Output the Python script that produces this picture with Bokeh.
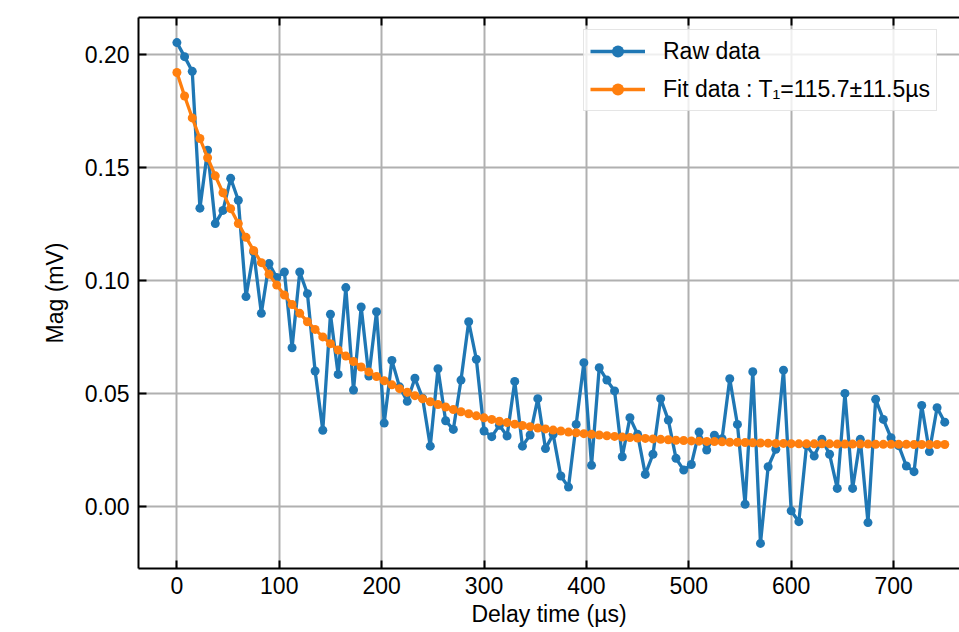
from bokeh.plotting import figure
from bokeh.models import (Range1d, FixedTicker, PrintfTickFormatter, LinearAxis,
                          Legend, LegendItem, CustomJSTickFormatter)
from bokeh.embed import file_html
from bokeh.resources import INLINE

# ---------------- data ----------------
delay_us = [0, 7.5, 15, 22.5, 30, 37.5, 45, 52.5, 60, 67.5, 75, 82.5, 90, 97.5,
            105, 112.5, 120, 127.5, 135, 142.5, 150, 157.5, 165, 172.5, 180,
            187.5, 195, 202.5, 210, 217.5, 225, 232.5, 240, 247.5, 255, 262.5,
            270, 277.5, 285, 292.5, 300, 307.5, 315, 322.5, 330, 337.5, 345,
            352.5, 360, 367.5, 375, 382.5, 390, 397.5, 405, 412.5, 420, 427.5,
            435, 442.5, 450, 457.5, 465, 472.5, 480, 487.5, 495, 502.5, 510,
            517.5, 525, 532.5, 540, 547.5, 555, 562.5, 570, 577.5, 585, 592.5,
            600, 607.5, 615, 622.5, 630, 637.5, 645, 652.5, 660, 667.5, 675,
            682.5, 690, 697.5, 705, 712.5, 720, 727.5, 735, 742.5, 750]

raw_mag = [0.2052, 0.1990, 0.1925, 0.1320, 0.1576, 0.1252, 0.1310, 0.1452,
           0.1355, 0.0929, 0.1126, 0.0855, 0.1075, 0.1013, 0.1038, 0.0703,
           0.1038, 0.0942, 0.0600, 0.0338, 0.0851, 0.0585, 0.0969, 0.0516,
           0.0883, 0.0578, 0.0862, 0.0370, 0.0647, 0.0530, 0.0466, 0.0568,
           0.0480, 0.0268, 0.0610, 0.0380, 0.0342, 0.0560, 0.0818, 0.0652,
           0.0335, 0.0310, 0.0360, 0.0313, 0.0554, 0.0268, 0.0317, 0.0478,
           0.0257, 0.0320, 0.0136, 0.0087, 0.0364, 0.0637, 0.0183, 0.0615,
           0.0560, 0.0512, 0.0221, 0.0394, 0.0320, 0.0143, 0.0232, 0.0478,
           0.0383, 0.0214, 0.0162, 0.0187, 0.0330, 0.0251, 0.0316, 0.0301,
           0.0566, 0.0364, 0.0011, 0.0597, -0.0162, 0.0177, 0.0254, 0.0604,
           -0.0018, -0.0066, 0.0272, 0.0224, 0.0298, 0.0232, 0.0081, 0.0501,
           0.0081, 0.0298, -0.0070, 0.0475, 0.0386, 0.0305, 0.0270, 0.0180,
           0.0155, 0.0448, 0.0244, 0.0438, 0.0374]

fit_mag = [0.1920, 0.1816, 0.1719, 0.1628, 0.1543, 0.1463, 0.1388, 0.1318,
           0.1252, 0.1191, 0.1133, 0.1079, 0.1028, 0.0980, 0.0936, 0.0894,
           0.0855, 0.0818, 0.0784, 0.0751, 0.0721, 0.0693, 0.0666, 0.0642,
           0.0618, 0.0596, 0.0576, 0.0557, 0.0539, 0.0522, 0.0506, 0.0491,
           0.0477, 0.0464, 0.0452, 0.0441, 0.0430, 0.0420, 0.0411, 0.0402,
           0.0393, 0.0386, 0.0378, 0.0372, 0.0365, 0.0359, 0.0354, 0.0348,
           0.0344, 0.0339, 0.0335, 0.0330, 0.0327, 0.0323, 0.0320, 0.0317,
           0.0314, 0.0311, 0.0308, 0.0306, 0.0304, 0.0302, 0.0300, 0.0298,
           0.0296, 0.0294, 0.0293, 0.0291, 0.0290, 0.0289, 0.0288, 0.0287,
           0.0285, 0.0285, 0.0284, 0.0283, 0.0282, 0.0281, 0.0280, 0.0280,
           0.0279, 0.0278, 0.0278, 0.0278, 0.0278, 0.0278, 0.0277, 0.0277,
           0.0277, 0.0277, 0.0277, 0.0276, 0.0276, 0.0276, 0.0276, 0.0276,
           0.0275, 0.0275, 0.0275, 0.0275, 0.0275]

x_ticks = [0, 100, 200, 300, 400, 500, 600, 700]
y_ticks = [0.0, 0.05, 0.10, 0.15, 0.20]

raw_label = "Raw data"
fit_label = "Fit data : T\u2081=115.7\u00b111.5\u00b5s"
x_title = "Delay time (\u00b5s)"
y_title = "Mag (mV)"

# ---------------- styling ----------------
BLUE = "#1f77b4"
ORANGE = "#ff7f0e"
FONT = "Liberation Sans"
FS = "23px"

p = figure(width=959, height=632, output_backend="svg", toolbar_location=None,
           x_range=Range1d(-37.5, 764.4), y_range=Range1d(-0.0273, 0.2163),
           min_border_left=138, min_border_right=0, min_border_top=17,
           min_border_bottom=64)
p.outline_line_color = None
p.background_fill_color = "white"
p.border_fill_color = "white"

raw_line = p.line(delay_us, raw_mag, line_color=BLUE, line_width=3.3)
raw_pts = p.scatter(delay_us, raw_mag, size=9, fill_color=BLUE, line_color=None)
fit_line = p.line(delay_us, fit_mag, line_color=ORANGE, line_width=3.3)
fit_pts = p.scatter(delay_us, fit_mag, size=9, fill_color=ORANGE, line_color=None)

xt = FixedTicker(ticks=x_ticks)
yt = FixedTicker(ticks=y_ticks)

def style_axis(ax):
    ax.axis_line_color = "black"
    ax.axis_line_width = 2
    ax.major_tick_in = 8
    ax.major_tick_out = 0
    ax.minor_tick_in = 0
    ax.minor_tick_out = 0
    ax.major_tick_line_width = 2
    ax.major_tick_line_color = "black"
    ax.major_label_text_font = FONT
    ax.major_label_text_font_size = FS
    ax.major_label_text_color = "black"
    ax.axis_label_text_font = FONT
    ax.axis_label_text_font_size = FS
    ax.axis_label_text_font_style = "normal"
    ax.axis_label_text_color = "black"

xa = p.xaxis[0]
ya = p.yaxis[0]
style_axis(xa)
style_axis(ya)
xa.ticker = xt
ya.ticker = yt
ya.formatter = PrintfTickFormatter(format="%.2f")
xa.axis_label = x_title
ya.axis_label = y_title
xa.major_label_standoff = 8
xa.axis_label_standoff = 4
ya.major_label_standoff = 9
ya.axis_label_standoff = 14

top = LinearAxis(ticker=xt, formatter=CustomJSTickFormatter(code="return ''"))
style_axis(top)
top.major_label_text_font_size = "0px"
top.major_label_standoff = 0
p.add_layout(top, "above")

p.xgrid.ticker = xt
p.ygrid.ticker = yt
for g in (p.xgrid, p.ygrid):
    g.grid_line_color = "#b0b0b0"
    g.grid_line_width = 2

legend = Legend(items=[LegendItem(label=raw_label, renderers=[raw_line, raw_pts]),
                       LegendItem(label=fit_label, renderers=[fit_line, fit_pts])],
                location=(445, 457))
legend.glyph_width = 55
legend.glyph_height = 30
legend.label_height = 30
legend.label_standoff = 18
legend.padding = 6
legend.spacing = 8
legend.margin = 0
legend.border_line_color = "#cccccc"
legend.border_line_width = 1.5
legend.background_fill_color = "white"
legend.background_fill_alpha = 0.8
legend.label_text_font = FONT
legend.label_text_font_size = FS
legend.label_text_color = "black"
p.add_layout(legend)

open("out.html", "w").write(file_html(p, INLINE))
